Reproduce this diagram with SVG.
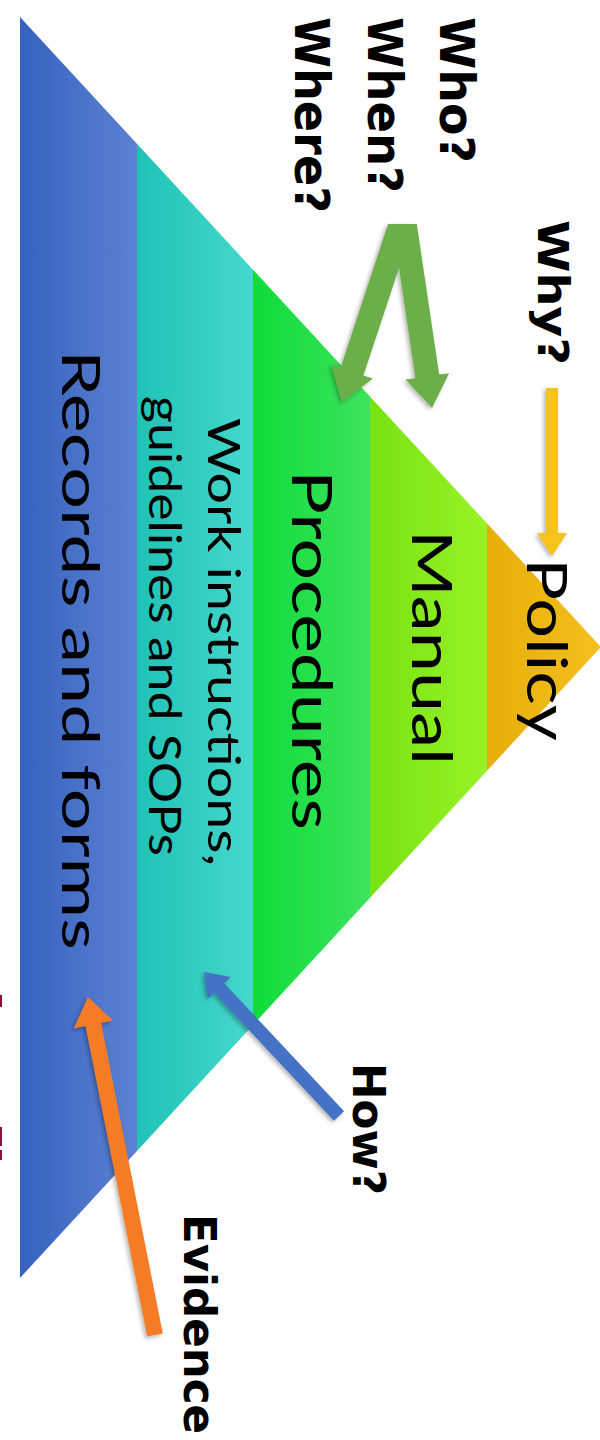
<svg xmlns="http://www.w3.org/2000/svg" width="600" height="1440" viewBox="0 0 600 1440">
<defs>
  <linearGradient id="gBlue" x1="0" y1="0" x2="1" y2="0"><stop offset="0" stop-color="#3562be"/><stop offset="1" stop-color="#5d81d2"/></linearGradient>
  <linearGradient id="gTeal" x1="0" y1="0" x2="1" y2="0"><stop offset="0" stop-color="#20c2b6"/><stop offset="1" stop-color="#46d8cc"/></linearGradient>
  <linearGradient id="gGreen" x1="0" y1="0" x2="1" y2="0"><stop offset="0" stop-color="#0fdc3a"/><stop offset="1" stop-color="#3ee35e"/></linearGradient>
  <linearGradient id="gLime" x1="0" y1="0" x2="1" y2="0"><stop offset="0" stop-color="#78e212"/><stop offset="1" stop-color="#98f226"/></linearGradient>
  <linearGradient id="gGold" x1="0" y1="0" x2="1" y2="0"><stop offset="0" stop-color="#e6ae08"/><stop offset="1" stop-color="#f4c020"/></linearGradient>
  <clipPath id="tri"><polygon points="20,17 601,647 20,1278"/></clipPath>
  <filter id="sh" x="-30%" y="-30%" width="160%" height="160%">
    <feDropShadow dx="-2" dy="2" stdDeviation="2" flood-color="#000" flood-opacity="0.3"/>
  </filter>
</defs>
<style>
  .lbl{font-family:Lato,"Liberation Sans",sans-serif;fill:#000}
  .q{font-family:"DejaVu Sans",Verdana,sans-serif;font-weight:bold;fill:#000}
  .arrow{filter:url(#sh)}
  .mark{fill:#8b1040}
</style>

<g id="pyramid" clip-path="url(#tri)">
  <g id="records"><rect x="20" y="0" width="117" height="1440" fill="url(#gBlue)"/></g>
  <g id="work"><rect x="137" y="0" width="116" height="1440" fill="url(#gTeal)"/></g>
  <g id="procedures"><rect x="253" y="0" width="117" height="1440" fill="url(#gGreen)"/></g>
  <g id="manual"><rect x="370" y="0" width="117" height="1440" fill="url(#gLime)"/></g>
  <g id="policy"><rect x="487" y="0" width="114" height="1440" fill="url(#gGold)"/></g>
</g>

<g id="connectors">
  <polygon id="arrow-why" class="arrow" fill="#f6c21c" points="546,388 558,388 558,533 567,533 552,556 537,533 546,533"/>
  <polygon id="arrow-who" class="arrow" fill="#6cae4a" points="388,224 416.8,224 439.2,374.6 449.1,373.2 432,408 405.5,379.6 415.4,378.2 399,268 363.4,375.4 372.9,378.5 342,402 331.1,364.7 340.6,367.8"/>
  <polygon id="arrow-how" class="arrow" fill="#4472c4" points="344.1,1111.2 224.2,983.2 230.7,977 204,972 207.5,999 214,992.8 333.9,1120.8"/>
  <polygon id="arrow-evidence" class="arrow" fill="#f47c26" points="162.8,1333.4 101.2,1023 113,1020.6 88,997 73.8,1028.4 85.6,1026 147.2,1336.6"/>
</g>

<g id="labels-pyramid">
  <text class="lbl" font-size="56" textLength="183" lengthAdjust="spacingAndGlyphs" transform="translate(527,558) rotate(90)">Policy</text>
  <text class="lbl" font-size="57" textLength="235" lengthAdjust="spacingAndGlyphs" transform="translate(412,530) rotate(90)">Manual</text>
  <text class="lbl" font-size="56" textLength="360" lengthAdjust="spacingAndGlyphs" transform="translate(292,470) rotate(90)">Procedures</text>
  <text class="lbl" font-size="44" textLength="448" lengthAdjust="spacingAndGlyphs" transform="translate(208,418) rotate(90)">Work instructions,</text>
  <text class="lbl" font-size="44" textLength="460" lengthAdjust="spacingAndGlyphs" transform="translate(149,396) rotate(90)">guidelines and SOPs</text>
  <text class="lbl" font-size="53" textLength="600" lengthAdjust="spacingAndGlyphs" transform="translate(62,350) rotate(90)">Records and forms</text>
</g>

<g id="labels-questions">
  <g id="q-who"><text class="q" font-size="48" textLength="146" lengthAdjust="spacingAndGlyphs" transform="translate(440,17) rotate(90)">Who?</text></g>
  <g id="q-when"><text class="q" font-size="48" textLength="176" lengthAdjust="spacingAndGlyphs" transform="translate(368,17) rotate(90)">When?</text></g>
  <g id="q-where"><text class="q" font-size="48" textLength="196" lengthAdjust="spacingAndGlyphs" transform="translate(295,17) rotate(90)">Where?</text></g>
  <g id="q-why"><text class="q" font-size="42" textLength="145" lengthAdjust="spacingAndGlyphs" transform="translate(538,220) rotate(90)">Why?</text></g>
  <g id="q-how"><text class="q" font-size="44" textLength="132" lengthAdjust="spacingAndGlyphs" transform="translate(353,1063) rotate(90)">How?</text></g>
  <g id="q-evidence"><text class="q" font-size="44" textLength="220" lengthAdjust="spacingAndGlyphs" transform="translate(184,1214) rotate(90)">Evidence</text></g>
</g>

<g id="marks">
  <rect class="mark" x="0" y="995" width="2" height="12"/>
  <rect class="mark" x="0" y="1127" width="2" height="19"/>
  <rect class="mark" x="0" y="1150" width="2" height="10"/>
</g>
</svg>
